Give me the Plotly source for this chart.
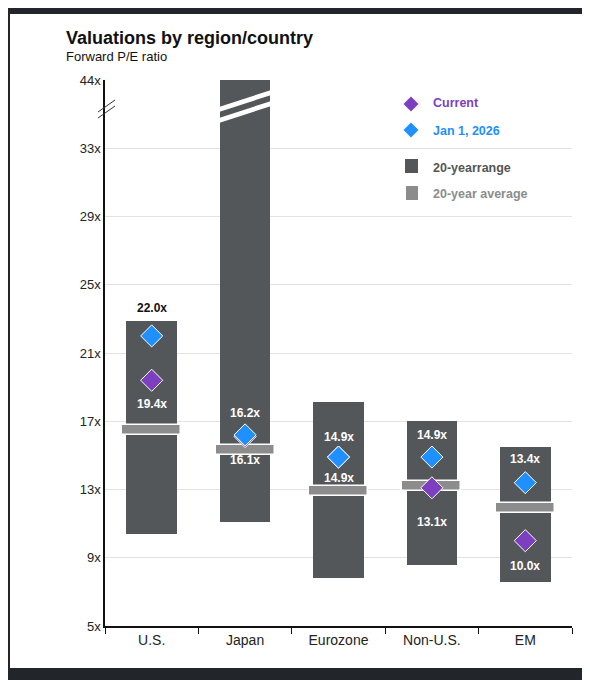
import plotly.graph_objects as go

categories = ["U.S.", "Japan", "Eurozone", "Non-U.S.", "EM"]
range_low = [10.4, 11.1, 7.8, 8.6, 7.6]
range_high = [22.9, 44.0, 18.1, 17.0, 15.5]
average = [16.5, 15.3, 12.9, 13.2, 11.9]
current = [19.4, 16.1, 14.9, 13.1, 10.0]
jan_2026 = [22.0, 16.2, 14.9, 14.9, 13.4]
tick_vals = [5, 9, 13, 17, 21, 25, 29, 33, 44]
tick_text = ["5x", "9x", "13x", "17x", "21x", "25x", "29x", "33x", "44x"]

def tr(v):
    return v if v <= 33 else 33 + (v - 33) * 4 / 11

OFF = 8  # page body offset
W, H = 590, 680
L, T = 105 - OFF, 80 - OFF
PW, PH = 572 - 105, 626 - 80
R, B = W - L - PW, H - T - PH
def px(x): return (x - 105) / PW
def py(y): return (626 - y) / PH
def ty(y): return py(y + 1)

DARK = "#54575a"
AVG = "#8c8c8c"
PUR = "#7b3fbf"
BLU = "#1e90ff"
FONT = "Liberation Sans"

fig = go.Figure()
fig.add_bar(x=categories, base=[tr(l) for l in range_low],
            y=[tr(h) - tr(l) for h, l in zip(range_high, range_low)],
            width=0.54, marker=dict(color=DARK, line=dict(width=0)), hoverinfo="skip")
fig.add_bar(x=categories, base=[tr(a) - 0.3 for a in average], y=[0.6] * 5,
            width=0.63, marker=dict(color=AVG, line=dict(color="white", width=1.5)), hoverinfo="skip")
fig.add_scatter(x=categories, y=[tr(v) for v in current], mode="markers",
                marker=dict(symbol="diamond", size=17, color=PUR, line=dict(color="white", width=1)))
fig.add_scatter(x=categories, y=[tr(v) for v in jan_2026], mode="markers",
                marker=dict(symbol="diamond", size=17, color=BLU, line=dict(color="white", width=1)))

ann = []
lab = [
    (0, jan_2026[0], 1.4, "#111"),
    (0, current[0], -1.4, "white"),
    (1, jan_2026[1], 1.3, "white"),
    (1, current[1], -1.4, "white"),
    (2, jan_2026[2], 1.2, "white"),
    (2, current[2], -1.2, "white"),
    (3, jan_2026[3], 1.3, "white"),
    (3, current[3], -2.0, "white"),
    (4, jan_2026[4], 1.4, "white"),
    (4, current[4], -1.5, "white"),
]
for i, v, off, col in lab:
    ann.append(dict(x=categories[i], y=tr(v) + off, text=f"<b>{v:.1f}x</b>", showarrow=False,
                    font=dict(size=12, color=col, family=FONT), xref="x", yref="y"))
ann[0]["y"] = tr(range_high[0]) + 0.75

shapes = [
    dict(type="rect", xref="paper", yref="paper", x0=px(10), x1=px(700), y0=py(668), y1=py(14),
         fillcolor="white", line=dict(width=0), layer="below"),
]
def vy(p): return 5 + (626 - p) / 17.06
for top_l, top_r in [(107, 90), (118, 101)]:
    shapes.append(dict(type="path", xref="x", yref="y",
                       path=f"M 0.72 {vy(top_l)} L 1.28 {vy(top_r)} L 1.28 {vy(top_r+5)} L 0.72 {vy(top_l+5)} Z",
                       fillcolor="white", line=dict(width=0)))
for dy in [0, 6]:
    shapes.append(dict(type="line", xref="paper", yref="paper", x0=px(98), x1=px(115),
                       y0=py(112 + dy), y1=py(100 + dy), line=dict(color="#333", width=1)))

def diamond(cx, cy, s, col):
    return dict(type="path", xref="paper", yref="paper",
                path=f"M {px(cx)} {py(cy-s)} L {px(cx+s)} {py(cy)} L {px(cx)} {py(cy+s)} L {px(cx-s)} {py(cy)} Z",
                fillcolor=col, line=dict(width=0))
shapes += [diamond(411, 104, 7.5, PUR), diamond(411, 130, 7.5, BLU),
           dict(type="rect", xref="paper", yref="paper", x0=px(405), x1=px(418), y0=py(173), y1=py(159),
                fillcolor=DARK, line=dict(width=0)),
           dict(type="rect", xref="paper", yref="paper", x0=px(406), x1=px(418), y0=py(200), y1=py(186),
                fillcolor=AVG, line=dict(width=0))]
for y, t, c in [(102, "Current", PUR), (130, "Jan 1, 2026", BLU), (167, "20-yearrange", "#555"),
                (193, "20-year average", "#8c8c8c")]:
    ann.append(dict(xref="paper", yref="paper", x=px(431), y=ty(y), text=f"<b>{t}</b>", showarrow=False,
                    xanchor="left", yanchor="middle", font=dict(size=12.5, color=c, family=FONT)))

ann.append(dict(xref="paper", yref="paper", x=px(64), y=ty(37), text="<b>Valuations by region/country</b>",
                showarrow=False, xanchor="left", yanchor="middle", font=dict(size=18, color="#111", family=FONT)))
ann.append(dict(xref="paper", yref="paper", x=px(64), y=ty(56), text="Forward P/E ratio",
                showarrow=False, xanchor="left", yanchor="middle", font=dict(size=13, color="#111", family=FONT)))

fig.update_layout(
    width=W, height=H, margin=dict(l=L, r=R, t=T, b=B),
    paper_bgcolor="#22262a", plot_bgcolor="rgba(0,0,0,0)",
    barmode="overlay", showlegend=False, bargap=0,
    shapes=shapes, annotations=ann,
    font=dict(family=FONT, color="#222", size=13),
)
fig.update_xaxes(type="category", showline=True, linecolor="#111", linewidth=1.5,
                 ticks="outside", tickson="boundaries", ticklen=6, tickcolor="#111",
                 showgrid=False, range=[-0.5, 4.5], tickfont=dict(size=14, color="#222"))
fig.update_yaxes(range=[5, 37], tickvals=[tr(v) for v in tick_vals], ticktext=tick_text,
                 showline=True, linecolor="#111", linewidth=1.5, gridcolor="#e3e3e3",
                 zeroline=False, ticks="", tickfont=dict(size=13, color="#222"))
fig.write_html("out.html")
